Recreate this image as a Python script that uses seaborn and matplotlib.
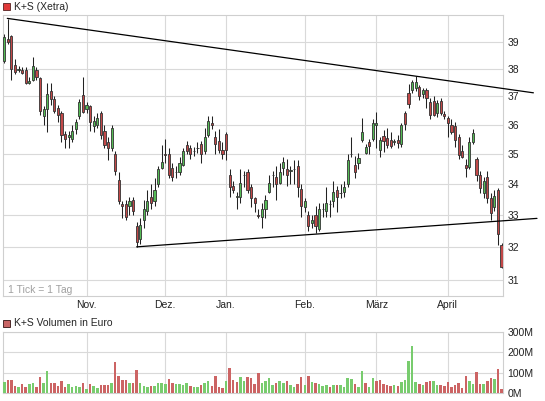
import numpy as np
import pandas as pd
import matplotlib
matplotlib.use("Agg")
import matplotlib.pyplot as plt
import seaborn as sns
from matplotlib.patches import Rectangle
from matplotlib.ticker import FixedLocator, NullLocator, FixedFormatter

# Xetra trading days, Oct 2012 - Apr 2013
holidays = ["2012-12-24", "2012-12-25", "2012-12-26", "2012-12-31",
            "2013-01-01", "2013-03-29", "2013-04-01"]
days = pd.bdate_range("2012-10-01", "2013-04-23")
days = days[~days.isin(pd.to_datetime(holidays))]

month_names = ["Nov.", "Dez.", "Jan.", "Feb.", "März", "April"]

# daily prices (EUR)
opens = [38.28, 39.1, 39.2, 38.15, 37.95, 37.95, 37.95, 37.5, 37.6, 37.95,
         37.65, 36.3, 36.55, 37.2, 36.9, 36.6, 36.4, 35.7, 35.6, 35.5,
         35.85, 36.3, 37.05, 36.55, 36.65, 35.95, 36.0, 36.4, 35.8, 35.4,
         35.2, 35.0, 34.15, 33.35, 33.35, 33.3, 33.5, 32.65, 32.25, 32.85,
         33.15, 33.6, 33.45, 34.0, 34.55, 35.0, 35.0, 34.55, 34.4, 34.4,
         34.65, 35.3, 35.2, 35.1, 35.2, 35.35, 35.1, 35.65, 36.05, 35.6,
         35.45, 35.15, 35.7, 34.3, 33.95, 33.6, 33.6, 34.3, 34.4, 33.9,
         33.55, 33.0, 32.95, 33.2, 33.75, 34.3, 34.25, 34.05, 34.55, 34.5,
         34.45, 34.5, 34.6, 33.85, 33.25, 33.0, 32.75, 33.0, 32.55, 33.2,
         33.15, 33.35, 33.45, 33.8, 33.7, 33.75, 34.0, 35.0, 34.65, 34.7,
         35.49, 35.04, 35.42, 35.52, 36.0, 35.15, 35.62, 35.55, 35.49, 35.4,
         35.49, 35.35, 36.42, 37.13, 37.24, 37.3, 37.35, 37.09, 37.24, 36.81,
         36.85, 36.42, 36.85, 36.38, 36.25, 36.0, 35.97, 35.59, 35.12, 34.65,
         34.58, 35.4, 34.85, 34.32, 33.72, 34.25, 33.56, 33.27, 33.82, 32.08]
highs = [39.3, 39.85, 39.25, 38.35, 38.1, 38.05, 38.05, 37.7, 38.45, 38.05,
         37.7, 36.65, 37.5, 37.5, 37.0, 36.7, 36.5, 35.8, 35.8, 36.0,
         36.2, 36.9, 37.7, 36.8, 36.7, 36.3, 36.4, 36.5, 36.0, 35.6,
         36.0, 35.1, 34.4, 33.45, 33.5, 33.6, 33.6, 32.8, 32.9, 33.5,
         33.8, 34.0, 34.2, 34.6, 35.3, 35.5, 35.2, 34.7, 34.6, 34.9,
         35.2, 35.45, 35.3, 35.25, 35.4, 35.45, 35.9, 36.3, 36.3, 35.8,
         35.85, 35.4, 35.75, 34.5, 34.1, 33.75, 34.5, 34.45, 34.5, 34.0,
         33.6, 33.2, 33.4, 33.65, 34.3, 34.45, 34.6, 34.7, 34.9, 34.85,
         34.6, 34.8, 34.8, 34.0, 33.55, 33.15, 33.0, 33.3, 33.4, 33.4,
         33.9, 33.5, 34.1, 33.95, 34.0, 34.1, 35.0, 35.6, 34.95, 35.05,
         36.25, 35.35, 35.52, 36.2, 36.46, 35.59, 35.83, 35.9, 35.76, 35.52,
         35.66, 36.05, 36.5, 37.45, 37.6, 37.74, 37.41, 37.3, 37.3, 36.95,
         37.0, 36.88, 36.95, 36.5, 36.3, 36.2, 36.1, 35.7, 35.3, 34.82,
         35.6, 35.85, 34.92, 34.42, 34.25, 34.42, 33.72, 33.82, 33.89, 32.14]
lows = [38.2, 38.9, 37.6, 37.8, 37.9, 37.8, 37.45, 37.45, 37.55, 37.6,
        36.35, 36.0, 35.75, 36.7, 36.4, 36.1, 35.4, 35.2, 35.2, 35.4,
        35.7, 36.2, 36.4, 36.4, 35.8, 35.75, 35.9, 35.5, 35.2, 34.8,
        35.1, 34.3, 33.35, 32.9, 32.85, 33.0, 33.0, 32.0, 32.1, 32.6,
        33.0, 33.2, 33.3, 33.9, 34.5, 34.7, 34.2, 34.1, 34.2, 34.3,
        34.6, 35.0, 34.85, 34.95, 35.05, 34.7, 35.0, 35.6, 35.85, 35.0,
        35.05, 34.85, 34.8, 33.6, 33.7, 33.2, 33.4, 33.9, 33.7, 33.25,
        33.1, 32.9, 32.6, 32.9, 33.7, 33.9, 33.5, 34.0, 34.3, 33.95,
        34.0, 34.0, 33.6, 32.95, 33.1, 32.5, 32.6, 32.45, 32.5, 32.95,
        32.95, 32.95, 33.25, 33.1, 33.55, 33.6, 33.9, 34.9, 34.2, 34.5,
        35.4, 35.0, 35.0, 35.45, 35.22, 34.92, 35.08, 35.22, 35.22, 35.32,
        35.2, 35.25, 35.83, 36.6, 37.13, 37.2, 36.88, 36.95, 36.6, 36.2,
        36.3, 36.28, 36.35, 36.2, 35.6, 35.7, 35.25, 34.85, 34.88, 34.25,
        34.5, 35.35, 34.09, 33.72, 33.56, 33.4, 32.86, 33.15, 32.08, 31.36]
closes = [39.17, 39.0, 38.0, 37.9, 38.0, 37.85, 37.5, 37.55, 38.1, 37.7,
          36.5, 36.55, 37.1, 36.9, 36.5, 36.35, 35.65, 35.5, 35.65, 35.8,
          36.1, 36.8, 36.45, 36.7, 36.1, 36.15, 36.25, 35.65, 35.3, 35.2,
          35.9, 34.45, 33.45, 33.3, 32.95, 33.45, 33.15, 32.15, 32.7, 33.2,
          33.45, 33.4, 33.8, 34.5, 34.75, 34.98, 34.3, 34.25, 34.4, 34.7,
          35.1, 35.1, 35.0, 35.1, 35.2, 35.0, 35.6, 36.15, 36.0, 35.35,
          35.15, 35.0, 35.15, 33.9, 33.8, 33.6, 34.05, 34.3, 33.8, 33.55,
          33.4, 32.98, 33.2, 33.5, 34.05, 34.3, 34.0, 34.4, 34.75, 34.3,
          34.45, 34.5, 33.9, 33.3, 33.45, 32.65, 32.85, 32.65, 33.2, 33.2,
          33.4, 33.35, 33.75, 33.6, 33.7, 33.9, 34.8, 35.0, 34.4, 34.88,
          35.76, 35.25, 35.29, 36.07, 36.06, 35.49, 35.45, 35.32, 35.29, 35.44,
          35.39, 36.0, 36.04, 36.74, 37.52, 37.52, 37.02, 37.24, 36.95, 36.35,
          36.35, 36.78, 36.42, 36.3, 36.07, 35.76, 35.49, 34.98, 34.92, 34.55,
          35.42, 35.72, 34.32, 33.89, 34.12, 33.56, 33.08, 33.63, 32.42, 31.39]

# daily turnover (million EUR)
volume = [52, 65, 65, 35, 30, 45, 30, 45, 50, 30,
          80, 50, 107, 50, 50, 35, 60, 30, 45, 30,
          35, 30, 50, 22, 45, 35, 25, 40, 40, 40,
          50, 152, 85, 65, 63, 50, 50, 115, 50, 35,
          30, 35, 35, 50, 50, 45, 70, 50, 45, 45,
          40, 50, 35, 30, 30, 40, 50, 60, 35, 85,
          30, 25, 60, 122, 65, 55, 80, 58, 80, 72,
          45, 100, 50, 60, 75, 40, 50, 58, 50, 60,
          40, 30, 45, 80, 40, 85, 55, 50, 45, 35,
          40, 30, 40, 40, 40, 30, 72, 70, 45, 30,
          110, 50, 30, 72, 60, 65, 45, 40, 35, 40,
          35, 55, 63, 157, 230, 55, 45, 40, 55, 58,
          58, 40, 40, 35, 55, 30, 40, 50, 25, 85,
          58, 45, 105, 45, 45, 58, 75, 70, 120, 22]

# trend lines (trading-day index, price)
upper_trend_x = [0.85, 147.9]
upper_trend_y = [39.89, 37.13]
lower_trend_x = [37.0, 148.9]
lower_trend_y = [32.01, 32.90]

price_ticks = [31, 32, 33, 34, 35, 36, 37, 38, 39]
volume_ticks = [0, 100, 200, 300]

GREEN = "#55bb55"
RED = "#c24848"
VOL_GREEN = "#78cc6e"
VOL_RED = "#cc6464"
GRID = "#d9d9d9"

sns.set_style("white")
plt.rcParams["font.family"] = ["Liberation Sans", "DejaVu Sans"]

o = np.array(opens)
h = np.array(highs)
l = np.array(lows)
c = np.array(closes)
x = np.arange(len(days))

month_pos = [i for i in range(1, len(days)) if days[i].month != days[i - 1].month]

W, H = 545, 401
fig = plt.figure(figsize=(W / 100, H / 100), dpi=100)
ax = fig.add_axes([3 / W, 1 - 296 / H, 500 / W, 281 / H])
axv = fig.add_axes([3 / W, 1 - 393 / H, 500 / W, 61 / H])

# candles
ax.vlines(x, l, h, color="#222222", lw=0.75, zorder=2)
body_low = np.minimum(o, c)
body_h = np.maximum(np.abs(c - o), 0.012)
ax.bar(x, body_h, bottom=body_low, width=0.6,
       color=np.where(c >= o, GREEN, RED), edgecolor="#333333",
       linewidth=0.6, zorder=3)

ax.plot(upper_trend_x, upper_trend_y, color="black", lw=0.9, clip_on=False, zorder=4)
ax.plot(lower_trend_x, lower_trend_y, color="black", lw=0.9, clip_on=False, zorder=4)

ax.set_yscale("log")
ax.set_ylim(30.53, 40.02)
ax.set_xlim(-0.35, len(days) - 0.6)
ax.yaxis.set_major_locator(FixedLocator(price_ticks))
ax.yaxis.set_major_formatter(FixedFormatter([str(t) for t in price_ticks]))
ax.yaxis.set_minor_locator(NullLocator())
ax.yaxis.tick_right()
ax.set_xticks(month_pos)
ax.set_xticklabels(month_names)
ax.tick_params(axis="both", length=0, labelsize=7.5, colors="#222222")
ax.tick_params(axis="y", pad=3)
ax.tick_params(axis="x", pad=3)
ax.grid(True, color=GRID, lw=0.8, zorder=0)
ax.text(0.01, 0.022, "1 Tick = 1 Tag", transform=ax.transAxes,
        fontsize=7.5, color="#a0a0a0", va="center", ha="left")

# volume
prev = np.concatenate([[o[0]], c[:-1]])
vol_df = pd.DataFrame({"day": x, "vol": volume,
                       "dir": np.where(c >= prev, "up", "down")})
sns.barplot(data=vol_df, x="day", y="vol", hue="dir",
            palette={"up": VOL_GREEN, "down": VOL_RED}, dodge=False,
            width=0.7, saturation=1, legend=False, ax=axv,
            linewidth=0, edgecolor="none", zorder=3)
axv.set_xlim(-0.35, len(days) - 0.6)
axv.set_ylim(0, 300)
axv.set_xticks(month_pos)
axv.set_xticklabels([])
axv.set_yticks(volume_ticks)
axv.set_yticklabels([f"{v}M" for v in volume_ticks])
axv.yaxis.tick_right()
axv.set_xlabel("")
axv.set_ylabel("")
axv.tick_params(axis="both", length=0, labelsize=7.5, colors="#222222")
axv.tick_params(axis="y", pad=3)
axv.grid(True, color=GRID, lw=0.8, zorder=0)
axv.set_axisbelow(True)
ax.set_axisbelow(True)

for a in (ax, axv):
    for s in a.spines.values():
        s.set_color("#cfcfcf")
        s.set_linewidth(0.8)

# panel titles with colour keys
fig.add_artist(Rectangle((3 / W, 1 - 10 / H), 7 / W, 7 / H, transform=fig.transFigure,
                         facecolor="#e03a3a", edgecolor="#552222", lw=0.6))
fig.text(14 / W, 1 - 7 / H, "K+S (Xetra)", fontsize=7.5, va="center", ha="left")
fig.add_artist(Rectangle((3 / W, 1 - 327 / H), 7 / W, 7 / H, transform=fig.transFigure,
                         facecolor="#c86464", edgecolor="#331111", lw=0.6))
fig.text(14 / W, 1 - 323 / H, "K+S Volumen in Euro", fontsize=7.5, va="center", ha="left")

fig.savefig("out.png", dpi=100)
